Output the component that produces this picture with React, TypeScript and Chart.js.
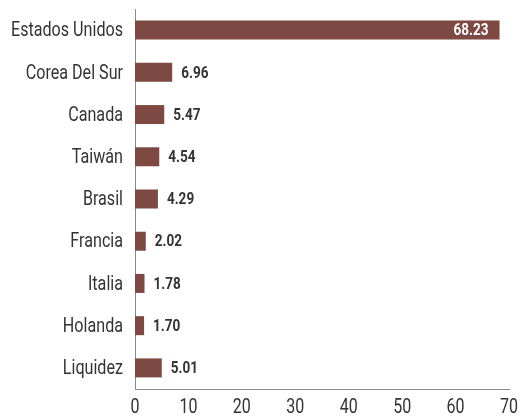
import React, { useEffect, useRef } from "react";
import { Chart, registerables } from "chart.js";

Chart.register(...registerables);

const categories = ["Estados Unidos", "Corea Del Sur", "Canada", "Taiwán", "Brasil", "Francia", "Italia", "Holanda", "Liquidez"];
const values = [68.23, 6.96, 5.47, 4.54, 4.29, 2.02, 1.78, 1.7, 5.01];
const xTicks = [0, 10, 20, 30, 40, 50, 60, 70];

const FONT = "Roboto, 'DejaVu Sans', sans-serif";

function drawText(ctx: any, txt: string, x: number, y: number, sx: number, align: string) {
  ctx.save();
  ctx.translate(x, y);
  ctx.scale(sx, 1);
  ctx.textAlign = align;
  ctx.fillText(txt, 0, 0);
  ctx.restore();
}

const textPlugin = {
  id: "textPlugin",
  afterDraw(chart: any) {
    const ctx = chart.ctx;
    const meta = chart.getDatasetMeta(0);
    const xs = chart.scales.x;
    ctx.save();
    ctx.textBaseline = "middle";

    // category labels
    ctx.font = `400 21px ${FONT}`;
    const catScale = 112 / ctx.measureText("Estados Unidos").width;
    ctx.fillStyle = "#333333";
    meta.data.forEach((bar: any, i: number) => {
      drawText(ctx, categories[i], chart.chartArea.left - 12, bar.y + 1, catScale, "right");
    });

    // x tick labels
    ctx.font = `400 21px ${FONT}`;
    const tickScale = 18 / ctx.measureText("10").width;
    xTicks.forEach((v) => {
      drawText(ctx, String(v), xs.getPixelForValue(v), chart.chartArea.bottom + 19, tickScale, "center");
    });

    // value labels
    ctx.font = `bold 17px ${FONT}`;
    const valScale = 35 / ctx.measureText("68.23").width;
    meta.data.forEach((bar: any, i: number) => {
      const v = values[i];
      const txt = v.toFixed(2);
      if (v > 50) {
        ctx.fillStyle = "#ffffff";
        drawText(ctx, txt, bar.x - 11, bar.y + 1, valScale, "right");
      } else {
        ctx.fillStyle = "#333333";
        drawText(ctx, txt, bar.x + 9, bar.y + 1, valScale, "left");
      }
    });
    ctx.restore();
  },
};

export default function App() {
  const ref = useRef<HTMLCanvasElement>(null);
  useEffect(() => {
    if (!ref.current) return;
    const chart = new Chart(ref.current, {
      type: "bar",
      data: {
        labels: categories,
        datasets: [
          {
            data: values,
            backgroundColor: "#7d4942",
            barPercentage: 0.45,
            categoryPercentage: 1,
          },
        ],
      },
      options: {
        indexAxis: "y",
        animation: false,
        responsive: true,
        maintainAspectRatio: false,
        layout: { padding: { left: 0, right: 17, top: 9, bottom: 0 } },
        plugins: { legend: { display: false }, tooltip: { enabled: false } },
        scales: {
          x: {
            min: 0,
            max: 70,
            afterBuildTicks: (s: any) => {
              s.ticks = xTicks.map((v) => ({ value: v }));
            },
            afterFit: (s: any) => {
              s.height = 30;
              s.paddingLeft = 0;
              s.paddingRight = 0;
            },
            grid: { display: false },
            border: { display: true, color: "#8a8a8a", width: 1 },
            ticks: { display: false },
          },
          y: {
            afterFit: (s: any) => {
              s.width = 135;
              s.paddingTop = 0;
              s.paddingBottom = 0;
            },
            grid: { display: false },
            border: { display: true, color: "#8a8a8a", width: 1 },
            ticks: { display: false },
          },
        },
      },
      plugins: [textPlugin],
    });
    return () => chart.destroy();
  }, []);
  return (
    <div style={{ position: "fixed", left: 0, top: 0, width: 526, height: 419 }}>
      <canvas ref={ref} />
    </div>
  );
}
